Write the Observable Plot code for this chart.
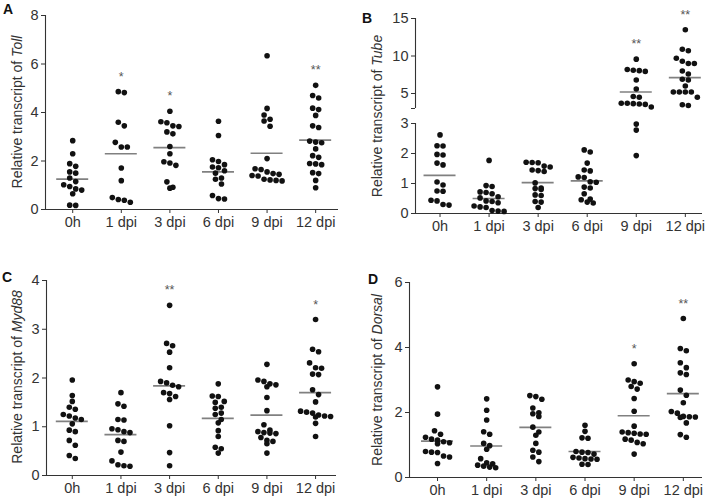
<!DOCTYPE html>
<html>
<head>
<meta charset="utf-8">
<script src="https://cdn.jsdelivr.net/npm/d3@7"></script>
<script src="https://cdn.jsdelivr.net/npm/@observablehq/plot@0.6"></script>
<style>
  body { margin: 0; background: #fff; }
  #fig { position: relative; width: 709px; height: 499px; overflow: hidden; font-family: Arial, "Liberation Sans", sans-serif; }
  #fig svg { position: absolute; }
</style>
</head>
<body>
<div id="fig"></div>
<script>
// ---------- data ----------
const categories = ["0h", "1 dpi", "3 dpi", "6 dpi", "9 dpi", "12 dpi"];

const tollData = [
  [2.84, 2.30, 1.89, 1.78, 1.55, 1.50, 1.30, 1.15, 1.02, 0.95, 0.85, 0.80, 0.65, 0.18, 0.17],
  [4.82, 4.86, 3.60, 3.45, 2.77, 2.58, 2.58, 1.71, 1.19, 0.49, 0.41, 0.38, 0.30],
  [4.05, 3.62, 3.58, 3.45, 3.42, 3.20, 3.12, 2.60, 2.30, 1.97, 1.92, 1.82, 1.14, 0.92, 0.88],
  [3.64, 3.05, 2.05, 1.98, 1.85, 1.75, 1.72, 1.60, 1.50, 1.30, 1.25, 1.05, 0.58, 0.45, 0.43],
  [6.34, 4.17, 3.90, 3.72, 3.65, 3.43, 2.10, 1.68, 1.65, 1.55, 1.48, 1.45, 1.40, 1.38, 1.25, 1.22, 1.20, 1.18],
  [5.12, 4.70, 4.60, 4.18, 4.12, 3.88, 3.45, 3.38, 2.82, 2.78, 2.75, 2.50, 2.22, 2.15, 1.90, 1.88, 1.85, 1.52, 1.48, 1.20, 0.90]
];
const tollMeans = [1.25, 2.30, 2.55, 1.55, 2.32, 2.86];
const tollStars = ["", "*", "*", "", "", "**"];

const tubeData = [
  [2.62, 2.26, 2.25, 1.97, 1.95, 1.68, 1.62, 1.05, 0.95, 0.75, 0.74, 0.44, 0.42, 0.30, 0.28],
  [1.77, 0.93, 0.90, 0.72, 0.70, 0.66, 0.56, 0.52, 0.42, 0.40, 0.36, 0.25, 0.22, 0.20, 0.10, 0.08, 0.07],
  [1.71, 1.70, 1.69, 1.58, 1.55, 1.45, 1.43, 1.40, 1.02, 0.85, 0.83, 0.80, 0.62, 0.60, 0.40, 0.38, 0.20],
  [2.12, 2.05, 1.68, 1.45, 1.42, 1.22, 1.20, 1.06, 1.04, 0.88, 0.85, 0.66, 0.48, 0.46, 0.38, 0.35],
  [9.58, 8.20, 8.05, 7.95, 8.10, 6.80, 5.60, 4.50, 4.60, 3.70, 3.65, 3.55, 3.70, 3.60, 3.20, 2.98, 2.78, 1.93],
  [13.5, 10.9, 10.7, 9.7, 9.3, 9.0, 9.0, 8.0, 7.6, 6.8, 6.9, 6.0, 5.2, 5.2, 5.2, 5.2, 4.5, 3.5, 3.4]
];
const tubeMeans = [1.27, 0.50, 1.03, 1.09, 5.20, 7.13];
const tubeStars = ["", "", "", "", "**", "**"];

const myd88Data = [
  [1.96, 1.64, 1.52, 1.40, 1.36, 1.25, 1.22, 1.18, 1.15, 1.06, 0.93, 0.90, 0.72, 0.62, 0.41, 0.35],
  [1.70, 1.47, 1.42, 1.15, 1.14, 0.96, 0.94, 0.90, 0.88, 0.72, 0.70, 0.48, 0.30, 0.22, 0.20, 0.19],
  [3.49, 2.71, 2.66, 2.53, 2.21, 1.93, 1.90, 1.85, 1.82, 1.70, 1.68, 1.62, 1.56, 1.02, 0.47, 0.20],
  [1.88, 1.63, 1.62, 1.52, 1.50, 1.40, 1.38, 1.28, 1.25, 1.15, 1.08, 0.92, 0.80, 0.58, 0.55, 0.46],
  [2.28, 1.96, 1.93, 1.88, 1.86, 1.82, 1.60, 1.33, 1.04, 0.93, 0.90, 0.88, 0.87, 0.86, 0.78, 0.72, 0.70, 0.65, 0.46],
  [3.20, 2.59, 2.54, 2.31, 2.21, 2.20, 2.08, 2.07, 1.76, 1.66, 1.51, 1.32, 1.30, 1.28, 1.24, 1.22, 1.21, 1.20, 1.07, 0.80]
];
const myd88Means = [1.11, 0.84, 1.84, 1.17, 1.24, 1.70];
const myd88Stars = ["", "", "**", "", "", "*"];

const dorsalData = [
  [2.79, 1.95, 1.44, 1.33, 1.24, 1.18, 1.15, 1.10, 1.07, 1.04, 0.80, 0.78, 0.77, 0.66, 0.63, 0.43],
  [2.42, 2.07, 1.77, 1.41, 1.33, 1.05, 0.98, 0.87, 0.58, 0.45, 0.42, 0.38, 0.35, 0.32, 0.30],
  [2.52, 2.49, 2.41, 2.14, 1.99, 1.96, 1.88, 1.55, 1.40, 1.30, 1.05, 0.84, 0.78, 0.63, 0.49],
  [1.61, 1.42, 1.22, 1.21, 0.80, 0.78, 0.77, 0.72, 0.62, 0.60, 0.58, 0.57, 0.56, 0.41, 0.40],
  [3.50, 3.00, 2.95, 2.90, 2.80, 2.72, 2.43, 2.04, 1.58, 1.40, 1.38, 1.36, 1.34, 1.33, 1.18, 1.15, 1.08, 1.04, 0.72],
  [4.89, 3.97, 3.90, 3.53, 3.38, 3.22, 3.17, 2.69, 2.53, 2.30, 2.03, 1.98, 1.88, 1.87, 1.86, 1.85, 1.68, 1.32, 1.24]
];
const dorsalMeans = [1.12, 0.97, 1.54, 0.80, 1.90, 2.58];
const dorsalStars = ["", "", "", "", "*", "**"];

// ---------- styling constants ----------
const FONT = "Arial, 'Liberation Sans', sans-serif";
const DOT_R = 2.8;
const ROW_H = 5.6;      // px: points closer than this share a row
const SPACING = 6.0;    // px: horizontal spacing inside a row
const MEAN_HALF = 16;   // px: half length of the mean line
const fig = document.getElementById("fig");

// simple GraphPad-like column scatter layout computed in pixel space
function layout(data, ypix, pxPerUnit) {
  const out = [];
  data.forEach((vals, i) => {
    const arr = vals.map(v => ({i, value: v, py: ypix(v)})).sort((a, b) => a.py - b.py);
    const rows = []; let row = null;
    for (const p of arr) {
      if (row && p.py - row[0].py < ROW_H) row.push(p);
      else { row = [p]; rows.push(row); }
    }
    rows.forEach(r => r.forEach((p, j) => { p.x = i + (j - (r.length - 1) / 2) * SPACING / pxPerUnit; }));
    out.push(...arr);
  });
  return out;
}

function makePlot(o) {
  const pxPerUnit = (o.width - o.ml - o.mr) / (o.xDomain[1] - o.xDomain[0]);
  const half = MEAN_HALF / pxPerUnit;
  const marks = [
    Plot.ruleX([o.xDomain[0]], {y1: o.yDomain[0], y2: o.yDomain[1], stroke: "#333", strokeWidth: 1.1}),
    Plot.ruleY(o.means, {y: "mean", x1: d => d.i - half, x2: d => d.i + half, stroke: "#808080", strokeWidth: 1.7}),
    Plot.dot(o.points, {x: "x", y: "value", r: DOT_R, fill: "#111", stroke: "none"}),
    Plot.text(o.stars, {x: "i", y: "top", text: "label", dy: -15, fill: "#555", fontSize: 12.5})
  ];
  if (o.xAxis) marks.unshift(Plot.ruleY([o.yDomain[0]], {x1: o.xDomain[0], x2: o.xDomain[1], stroke: "#333", strokeWidth: 1.1}));
  const svg = Plot.plot({
    width: o.width, height: o.height,
    marginLeft: o.ml, marginRight: o.mr, marginTop: o.mt, marginBottom: o.mb,
    style: {fontFamily: FONT, fontSize: "14.5px", color: "#333", background: "transparent", overflow: "visible"},
    x: o.xAxis
      ? {type: "linear", domain: o.xDomain, ticks: d3.range(categories.length), tickFormat: i => categories[i], tickSize: 4, tickPadding: 3, label: null}
      : {type: "linear", domain: o.xDomain, axis: null},
    y: {domain: o.yDomain, ticks: o.yTicks, tickFormat: o.yFormat || (d => d), tickSize: 4, tickPadding: 3, label: null},
    marks
  });
  svg.style.left = o.left + "px";
  svg.style.top = o.top + "px";
  fig.appendChild(svg);
  return svg;
}

function yMapper(width, height, mt, mb, domain) {
  return d3.scaleLinear().domain(domain).range([height - mb, mt]);
}

function simplePanel(p) {
  const pxPerUnit = (p.width - p.ml - p.mr) / (p.xDomain[1] - p.xDomain[0]);
  const ys = yMapper(p.width, p.height, p.mt, p.mb, p.yDomain);
  const points = layout(p.data, ys, pxPerUnit);
  const means = p.means.map((m, i) => ({i, mean: m}));
  const stars = p.stars.map((s, i) => ({i, label: s, top: d3.max(p.data[i])})).filter(d => d.label);
  makePlot({...p, points, means, stars, xAxis: true});
}

// Panel A
simplePanel({left: 0, top: 0, width: 345, height: 240, ml: 45, mr: 7, mt: 15, mb: 31,
  xDomain: [-0.56, 5.47], yDomain: [0, 8], yTicks: [0, 2, 4, 6, 8],
  data: tollData, means: tollMeans, stars: tollStars});

// Panel C
simplePanel({left: 0, top: 250, width: 345, height: 249, ml: 46, mr: 9, mt: 30, mb: 24,
  xDomain: [-0.53, 5.43], yDomain: [0, 4], yTicks: [0, 1, 2, 3, 4],
  data: myd88Data, means: myd88Means, stars: myd88Stars});

// Panel D
simplePanel({left: 355, top: 250, width: 354, height: 249, ml: 54, mr: 7, mt: 32, mb: 22,
  xDomain: [-0.57, 5.39], yDomain: [0, 6], yTicks: [0, 2, 4, 6],
  data: dorsalData, means: dorsalMeans, stars: dorsalStars});

// Panel B (broken y axis: lower 0–3, upper 3–15)
(function () {
  const upper = {left: 355, top: 0, width: 354, height: 112, ml: 60, mr: 7, mt: 18, mb: 4,
    xDomain: [-0.50, 5.35], yDomain: [3, 15], yTicks: [3, 5, 10, 15], yFormat: d => d === 3 ? "" : d};
  const lower = {left: 355, top: 112, width: 354, height: 128, ml: 60, mr: 7, mt: 11, mb: 27,
    xDomain: [-0.50, 5.35], yDomain: [0, 3], yTicks: [0, 1, 2, 3]};
  const pxPerUnit = (upper.width - upper.ml - upper.mr) / (upper.xDomain[1] - upper.xDomain[0]);
  const yu = yMapper(upper.width, upper.height, upper.mt, upper.mb, upper.yDomain);
  const yl = yMapper(lower.width, lower.height, lower.mt, lower.mb, lower.yDomain);
  const ypix = v => v > 3 ? upper.top + yu(v) : lower.top + yl(v);
  const points = layout(tubeData, ypix, pxPerUnit);
  const means = tubeMeans.map((m, i) => ({i, mean: m}));
  const stars = tubeStars.map((s, i) => ({i, label: s, top: d3.max(tubeData[i])})).filter(d => d.label);
  makePlot({...upper, xAxis: false,
    points: points.filter(d => d.value > 3), means: means.filter(d => d.mean > 3), stars: stars.filter(d => d.top > 3)});
  makePlot({...lower, xAxis: true,
    points: points.filter(d => d.value <= 3), means: means.filter(d => d.mean <= 3), stars: stars.filter(d => d.top <= 3)});
})();

// Overlay: panel letters and y-axis titles with italic gene names
const overlay = d3.select(fig).append("svg")
  .attr("width", 709).attr("height", 499)
  .style("left", "0px").style("top", "0px").style("pointer-events", "none")
  .style("font-family", FONT);

const letters = [
  {t: "A", x: 3, y: 14}, {t: "B", x: 362, y: 23},
  {t: "C", x: 2, y: 282}, {t: "D", x: 368, y: 284}
];
overlay.selectAll("text.letter").data(letters).join("text")
  .attr("class", "letter").attr("x", d => d.x).attr("y", d => d.y)
  .attr("font-weight", "bold").attr("font-size", 14).attr("fill", "#111").text(d => d.t);

const titles = [
  {gene: "Toll", x: 18, y: 112}, {gene: "Tube", x: 378, y: 116},
  {gene: "Myd88", x: 18, y: 377}, {gene: "Dorsal", x: 378, y: 380}
];
titles.forEach(d => {
  const t = overlay.append("text")
    .attr("transform", `translate(${d.x},${d.y}) rotate(-90)`)
    .attr("text-anchor", "middle").attr("dominant-baseline", "middle")
    .attr("font-size", 14).attr("fill", "#333");
  t.append("tspan").text("Relative transcript of ");
  t.append("tspan").attr("font-style", "italic").text(d.gene);
});
</script>
</body>
</html>
